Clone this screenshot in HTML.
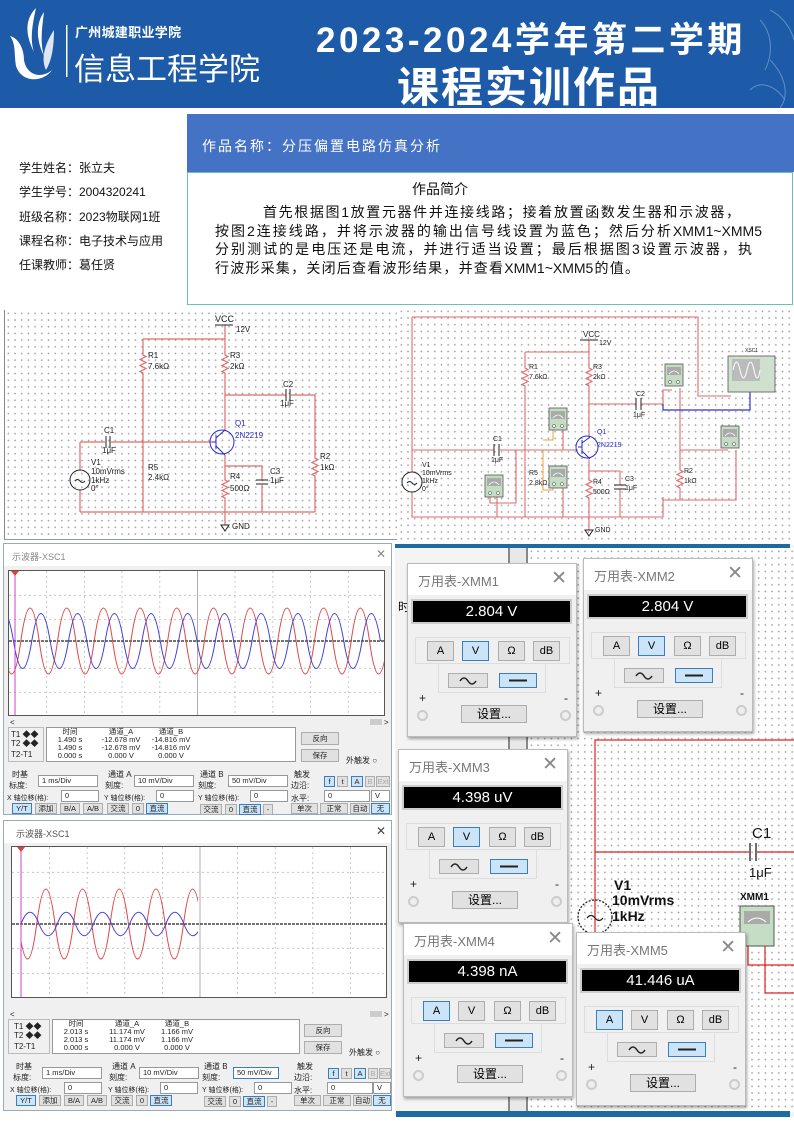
<!DOCTYPE html>
<html><head><meta charset="utf-8">
<style>
*{margin:0;padding:0;box-sizing:border-box}
body{width:794px;height:1123px;position:relative;overflow:hidden;background:#fff;font-family:"Liberation Sans","Noto Sans CJK SC",sans-serif}
.a{position:absolute;white-space:nowrap}
.dots{background-image:radial-gradient(#a0a0a0 0.7px,transparent 0.9px);background-size:6.7px 6.7px}
.jl{position:absolute;text-align:justify;text-align-last:justify;white-space:nowrap;font-size:14px;color:#111}
.sc{position:absolute;background:#f0f0f0;border:1px solid #9ab;font-size:8px;color:#222}
.sc .tb{position:absolute;left:0;top:0;right:0;height:22px;background:#fff}
.sc .a{font-size:8px}
.in{position:absolute;background:#fff;border:1px solid #999;height:12px;font-size:7.5px;padding-left:3px;line-height:10px}
.bt{position:absolute;background:#e1e1e1;border:1px solid #adadad;height:11px;font-size:7.5px;text-align:center;line-height:9px}
.sel{background:#cce4f7;border-color:#3b7ec0}
.mm{position:absolute;width:170px;height:174px;background:#f0f0f0;border:1px solid #bbb;box-shadow:1px 2px 3px rgba(0,0,0,.35)}
.mm .t{position:absolute;left:0;top:0;width:100%;height:31px;background:#fff}
.mm .tt{position:absolute;left:10px;top:7px;font-size:13px;color:#777}
.mm .x{position:absolute;right:9px;top:3px;font-size:19px;color:#888;font-weight:300}
.mm .d{position:absolute;left:3px;top:35px;width:161px;height:25px;background:#000;border:2px solid #ccc;color:#fff;font-size:15px;text-align:center;line-height:21px}
.mm .p1{position:absolute;left:7px;top:73px;width:155px;height:27px;border:1px solid #ddd}
.mm .p2{position:absolute;left:30px;top:100px;width:108px;height:29px;border:1px solid #ddd;border-top:none}
.mm .b{position:absolute;top:77px;width:27px;height:20px;background:#e1e1e1;border:1px solid #adadad;font-size:11px;text-align:center;line-height:18px}
.mm .w{position:absolute;top:109px;height:15px;background:#e1e1e1;border:1px solid #adadad}
.mm .s{background:#cce4f7;border-color:#3b7ec0}
.mm .set{position:absolute;left:53px;top:141px;width:66px;height:18px;background:#e1e1e1;border:1px solid #adadad;font-size:12px;text-align:center;line-height:16px}
.mm .c{position:absolute;top:146px;width:11px;height:11px;border-radius:50%;border:2px solid #ccc;background:#eee}
.mm .pm{position:absolute;top:127px;font-size:12px;color:#222}
</style></head><body>

<div class="a" style="left:0;top:0;width:794px;height:108px;background:#1d5ba8"></div>
<svg class="a" style="left:0;top:0" width="794" height="108">
 <g fill="#fff">
  <path d="M36,8 C22,22 28,40 34,52 C30,40 32,26 36,8Z"/>
  <path d="M44,12 C34,26 38,44 44,56 C40,42 42,28 44,12Z"/>
  <path d="M10,36 C18,38 24,48 24,60 C26,74 40,80 52,70 C44,82 22,84 16,66 C14,54 16,44 10,36Z"/>
  <path d="M54,30 C46,42 40,58 46,70 C52,60 54,46 54,30Z" opacity=".85"/>
 </g>
 <rect x="66" y="25" width="1.5" height="52" fill="#fff"/>
 <g fill="none" stroke="#8fb0d8" stroke-width="1" opacity=".6">
  <path d="M760,20 C770,30 775,50 765,70 M770,60 C785,75 790,95 780,108 M750,90 C760,80 775,85 785,100 M770,10 C780,15 790,25 794,40"/>
 </g>
</svg>
<div class="a" style="left:75px;top:22px;font-size:13px;font-weight:bold;color:#fff;letter-spacing:0.3px">广州城建职业学院</div>
<div class="a" style="left:74px;top:44px;font-size:31px;color:#fff;letter-spacing:0px">信息工程学院</div>
<div class="a" style="left:316px;top:12px;font-size:35px;font-weight:bold;color:#fff;letter-spacing:3.5px">2023-2024学年第二学期</div>
<div class="a" style="left:397px;top:54px;font-size:42px;font-weight:bold;color:#fff;letter-spacing:2px">课程实训作品</div>

<div class="a" style="left:19px;top:156px;font-size:12px;color:#111;line-height:24.3px">学生姓名：张立夫<br>学生学号：2004320241<br>班级名称：2023物联网1班<br>课程名称：电子技术与应用<br>任课教师：葛任贤</div>
<div class="a" style="left:187px;top:114px;width:607px;height:58px;background:#4472c4"></div>
<div class="jl" style="left:202px;top:136px;width:238px;color:#fff;font-size:14px">作品名称：分压偏置电路仿真分析</div>
<div class="a" style="left:187px;top:172px;width:606px;height:133px;border:1.5px solid #6cc2b0;border-top:1px solid #6cc2b0"></div>
<div class="a" style="left:412px;top:179px;font-size:14px;color:#111">作品简介</div>
<div class="jl" style="left:263px;top:202px;width:477px">首先根据图1放置元器件并连接线路；接着放置函数发生器和示波器，</div>
<div class="jl" style="left:215px;top:221px;width:547px">按图2连接线路，并将示波器的输出信号线设置为蓝色；然后分析XMM1~XMM5</div>
<div class="jl" style="left:215px;top:239px;width:537px">分别测试的是电压还是电流，并进行适当设置；最后根据图3设置示波器，执</div>
<div class="jl" style="left:215px;top:258px;width:424px">行波形采集，关闭后查看波形结果，并查看XMM1~XMM5的值。</div>

<div class="a dots" style="left:4px;top:310px;width:393px;height:230px;border-left:1px solid #888;border-bottom:1px solid #999"></div>
<div class="a dots" style="left:398px;top:308px;width:396px;height:236px"></div>
<div class="a" style="left:395px;top:545px;width:399px;height:572px;background:#f4f4f4"></div>
<div class="a dots" style="left:528px;top:548px;width:266px;height:564px;background-color:#fff"></div>
<div class="a" style="left:508px;top:548px;width:20px;height:567px;background:#e8e8e8;border-left:2px solid #888;border-right:2px solid #888"></div>
<div class="a" style="left:395px;top:544px;width:395px;height:4px;background:#1f6aa0"></div>
<div class="a" style="left:396px;top:1111px;width:394px;height:6px;background:#1f6aa0"></div>
<div class="a" style="left:398px;top:598px;font-size:12px">时</div>

<svg class="a" style="left:0;top:0" width="794" height="1123" viewBox="0 0 794 1123">
<defs>
 <g id="met"><rect x="0" y="0" width="18" height="22" fill="#c5dcc5" stroke="#555" stroke-width=".8"/><rect x="2" y="3" width="14" height="8" fill="#aaa"/><path d="M4,10 Q9,4 14,10" stroke="#fff" fill="none" stroke-width=".8"/><circle cx="5" cy="18" r="1.5" fill="#fff" stroke="#333" stroke-width=".5"/><circle cx="13" cy="18" r="1.5" fill="#fff" stroke="#333" stroke-width=".5"/></g>
</defs>
<g stroke="#e26a6a" stroke-width="1.2" fill="none">
 <path d="M225,325 V339 M143,339 H225"/>
 <path d="M143,339 V355 l3,1.5 l-6,3 l6,3 l-6,3 l6,3 l-6,3 l3,1.5 V512"/>
 <path d="M225,339 V355 l3,1.5 l-6,3 l6,3 l-6,3 l6,3 l-6,3 l3,1.5 V430"/>
 <path d="M225,395 H286 M291,395 H315 V458 l3,1.5 l-6,3 l6,3 l-6,3 l6,3 l-6,3 l3,1.5 V512"/>
 <path d="M80,442 H105 M111,442 H212"/>
 <path d="M80,442 V470 M80,490 V512"/>
 <path d="M225,455 V466 H262 V480 M262,485 V512"/>
 <path d="M225,466 V480 l3,1.5 l-6,3 l6,3 l-6,3 l6,3 l-6,3 l3,1.5 V525"/>
 <path d="M80,512 H315"/>
</g>
<g stroke="#222" stroke-width="1" fill="none">
 <path d="M215,325 H233"/>
 <path d="M106,436 V448 M110,436 V448 M286,389 V401 M290,389 V401 M256,480 H268 M256,484 H268"/>
 <circle cx="80" cy="480" r="10"/><path d="M75,481 q2.5,-3 5,0 t5,0"/>
 <path d="M221,525 H229 L225,531Z"/>
</g>
<g stroke="#2a2ad0" stroke-width="1" fill="none"><circle cx="222" cy="442" r="12"/><path d="M216,435 V449 M216,442 H212 M216,438 L225,430 M216,446 L225,455"/></g>
<g font-size="8" fill="#222" font-family="Liberation Sans">
 <text x="215" y="322" font-size="9">VCC</text><text x="236" y="332">12V</text>
 <text x="148" y="358">R1</text><text x="148" y="369">7.6kΩ</text>
 <text x="230" y="358">R3</text><text x="230" y="369">2kΩ</text>
 <text x="283" y="387">C2</text><text x="280" y="406">1μF</text>
 <text x="320" y="459">R2</text><text x="320" y="470">1kΩ</text>
 <text x="104" y="433">C1</text><text x="102" y="453">1μF</text>
 <text x="91" y="465">V1</text><text x="91" y="474">10mVrms</text><text x="91" y="483">1kHz</text><text x="91" y="491">0°</text>
 <text x="148" y="470">R5</text><text x="148" y="480">2.4kΩ</text>
 <text x="230" y="479">R4</text><text x="230" y="491">500Ω</text>
 <text x="270" y="474">C3</text><text x="270" y="483">1μF</text>
 <text x="232" y="529">GND</text>
 <text x="235" y="426" fill="#2a2ad0">Q1</text><text x="235" y="438" fill="#2a2ad0">2N2219</text>
</g>
<g stroke="#e26a6a" stroke-width="1.1" fill="none">
 <path d="M412,317 H698 V396 H731"/>
 <path d="M412,317 V472 M412,492 V517 H663 V500 H680 M663,500 V497"/>
 <path d="M589,340 V352 M525,352 H589"/>
 <path d="M525,352 V368 l3,1.5 l-6,3 l6,3 l-6,3 l6,3 l-6,3 l3,1.5 V517"/>
 <path d="M589,352 V368 l3,1.5 l-6,3 l6,3 l-6,3 l6,3 l-6,3 l3,1.5 V437"/>
 <path d="M589,404 H636 M641,404 H663 V390 H672 M680,388 V450 V470 l3,1.5 l-6,3 l6,3 l-6,3 l6,3 l-6,3 l3,1.5 V500"/>
 <path d="M412,450 H494 M500,450 H578 M563,450 V428"/>
 <path d="M680,450 H728 M736,450 V500 H663"/>
 <path d="M589,460 V471 H620 V485 M620,489 V517"/>
 <path d="M589,471 V480 l3,1.5 l-6,3 l6,3 l-6,3 l6,3 l-6,3 l3,1.5 V530"/>
 <path d="M490,497 V503 H516 V450 M497,497 V517"/>
 <path d="M563,487 V517"/>
</g>
<path d="M543,450 V490 H553 V486 M553,428 V440 H543" stroke="#f0a040" stroke-width="1" fill="none"/>
<path d="M663,404 V410 H750 V390" stroke="#3535c8" stroke-width="1.2" fill="none"/>
<g stroke="#222" stroke-width="1" fill="none">
 <path d="M580,340 H598 M494,444 V456 M499,444 V456 M636,398 V410 M641,398 V410 M614,485 H626 M614,489 H626"/>
 <circle cx="412" cy="482" r="10"/><path d="M407,483 q2.5,-3 5,0 t5,0"/>
 <path d="M585,530 H593 L589,536Z"/>
</g>
<g stroke="#2a2ad0" stroke-width="1" fill="none"><circle cx="587" cy="447" r="11"/><path d="M582,440 V454 M582,447 H578 M582,443 L590,437 M582,451 L590,459"/></g>
<use href="#met" x="665" y="364"/><use href="#met" x="721" y="426"/><use href="#met" x="549" y="408"/><use href="#met" x="549" y="466"/><use href="#met" x="485" y="475"/>
<rect x="728" y="356" width="47" height="36" fill="#cfe0cf" stroke="#555" stroke-width=".8"/><rect x="732" y="359" width="28" height="22" fill="#bbb"/><path d="M733,370 q3.5,-16 7,0 t7,0 t7,0 t6,0" stroke="#fff" fill="none"/>
<g font-size="7" fill="#222" font-family="Liberation Sans">
 <text x="583" y="337" font-size="8">VCC</text><text x="599" y="345">12V</text>
 <text x="529" y="369">R1</text><text x="529" y="379">7.6kΩ</text>
 <text x="593" y="369">R3</text><text x="593" y="379">2kΩ</text>
 <text x="636" y="396">C2</text><text x="633" y="417">1μF</text>
 <text x="493" y="441">C1</text><text x="491" y="462">1μF</text>
 <text x="422" y="467">V1</text><text x="422" y="475">10mVrms</text><text x="422" y="483">1kHz</text><text x="422" y="491">0°</text>
 <text x="529" y="475">R5</text><text x="529" y="485">2.8kΩ</text>
 <text x="593" y="484">R4</text><text x="593" y="494">500Ω</text>
 <text x="625" y="481">C3</text><text x="625" y="490">1μF</text>
 <text x="684" y="473">R2</text><text x="684" y="483">1kΩ</text>
 <text x="595" y="532">GND</text>
 <text x="597" y="434" fill="#2a2ad0">Q1</text><text x="597" y="447" fill="#2a2ad0">2N2219</text>
 <text x="745" y="352" font-size="5">XSC1</text>
</g>
<g stroke="#e02020" stroke-width="1.2" fill="none">
 <path d="M595,993 V740 H794"/>
 <path d="M595,852 H749 M757,852 H794"/>
 <path d="M748,945 V965 H794 M765,945 V993 H794"/>
</g>
<g stroke="#222" stroke-width="1.3" fill="none"><path d="M750,843 V861 M756,843 V861"/><circle cx="595" cy="917" r="17" stroke-dasharray="2,1.5"/><path d="M587,918 q4,-5 8,0 t8,0"/></g>
<g font-family="Liberation Sans" fill="#111" font-size="14" font-weight="bold">
 <text x="752" y="838" font-size="15" font-weight="normal">C1</text><text x="749" y="877" font-size="13" font-weight="normal">1μF</text>
 <text x="614" y="890">V1</text><text x="612" y="905">10mVrms</text><text x="612" y="921">1kHz</text>
 <text x="740" y="900" font-size="10">XMM1</text>
</g>
<rect x="740" y="906" width="34" height="40" fill="#c5dcc5" stroke="#555"/><rect x="744" y="911" width="26" height="13" fill="#aaa"/><path d="M748,922 Q757,914 766,922" stroke="#fff" fill="none"/>
</svg>

<div class="sc" style="left:3px;top:543px;width:389px;height:272px">
 <div class="tb"></div>
 <div class="a" style="left:8px;top:6px;font-size:9px;color:#888">示波器-XSC1</div>
 <div class="a" style="left:372px;top:3px;font-size:12px;color:#888">✕</div>
 <svg class="a" style="left:4px;top:26px;background:#fff;border:1px solid #555" width="377" height="146">
  <g stroke="#bbb" stroke-dasharray="2,3" stroke-width=".8"><path d="M37.7,0V146M75.4,0V146M113,0V146M150.8,0V146M226,0V146M263.9,0V146M301.6,0V146M339.3,0V146M0,24.3H377M0,48.6H377M0,97.3H377M0,121.6H377"/></g>
  <path d="M188.5,0V146" stroke="#999" stroke-width=".8"/>
  <path d="M0,70H377" stroke="#222" stroke-width="1.2" stroke-dasharray="3,1"/>
  <path d="M-6.5,70 q9.17,66 18.35,0 t18.35,0 t18.35,0 t18.35,0 t18.35,0 t18.35,0 t18.35,0 t18.35,0 t18.35,0 t18.35,0 t18.35,0 t18.35,0 t18.35,0 t18.35,0 t18.35,0 t18.35,0 t18.35,0 t18.35,0 t18.35,0 t18.35,0 t18.35,0" stroke="#e04545" fill="none" stroke-width="1"/>
  <path d="M-13.9,70 q9.17,-55 18.35,0 t18.35,0 t18.35,0 t18.35,0 t18.35,0 t18.35,0 t18.35,0 t18.35,0 t18.35,0 t18.35,0 t18.35,0 t18.35,0 t18.35,0 t18.35,0 t18.35,0 t18.35,0 t18.35,0 t18.35,0 t18.35,0 t18.35,0 t18.35,0" stroke="#4040d8" fill="none" stroke-width="1"/>
  <path d="M6,0V146" stroke="#d040d0" stroke-width="1"/>
  <path d="M2,0 H10 L6,5Z" fill="#e04040"/>
 </svg>
 <div class="a" style="left:6px;top:174px;font-size:8px">&lt;</div><div class="a" style="left:380px;top:174px;font-size:8px">&gt;</div>
 <div class="a" style="left:366px;top:175px;width:12px;height:6px;background:#ccc"></div>
 <div class="a" style="left:4px;top:183px;width:36px;height:35px;border:1px solid #bbb"></div>
 <div class="a" style="left:7px;top:185px">T1 ◆◆</div><div class="a" style="left:7px;top:194px">T2 ◆◆</div><div class="a" style="left:7px;top:206px">T2-T1</div>
 <div class="a" style="left:42px;top:183px;width:250px;height:35px;background:#fff;border:1px solid #999"></div>
 <div class="a" style="left:46px;top:184px;line-height:8px;text-align:center;width:40px;font-size:7.5px">时间<br>1.490 s<br>1.490 s<br>0.000 s</div>
 <div class="a" style="left:92px;top:184px;line-height:8px;text-align:center;width:50px;font-size:7.5px">通道_A<br>-12.678 mV<br>-12.678 mV<br>0.000 V</div>
 <div class="a" style="left:142px;top:184px;line-height:8px;text-align:center;width:50px;font-size:7.5px">通道_B<br>-14.816 mV<br>-14.816 mV<br>0.000 V</div>
 <div class="bt" style="left:297px;top:188px;width:38px;height:13px;line-height:11px">反向</div>
 <div class="bt" style="left:297px;top:205px;width:38px;height:13px;line-height:11px">保存</div>
 <div class="a" style="left:342px;top:211px">外触发 ○</div>
 <div class="a" style="left:8px;top:225px">时基</div><div class="a" style="left:5px;top:236px">标度:</div><div class="in" style="left:34px;top:231px;width:60px">1 ms/Div</div>
 <div class="a" style="left:3px;top:249px;font-size:7px">X 轴位移(格):</div><div class="in" style="left:57px;top:246px;width:38px">0</div>
 <div class="bt sel" style="left:8px;top:259px;width:20px">Y/T</div><div class="bt" style="left:31px;top:259px;width:22px">添加</div><div class="bt" style="left:56px;top:259px;width:20px">B/A</div><div class="bt" style="left:79px;top:259px;width:20px">A/B</div>
 <div class="a" style="left:104px;top:225px">通道 A</div><div class="a" style="left:101px;top:236px">刻度:</div><div class="in" style="left:130px;top:231px;width:60px">10 mV/Div</div>
 <div class="a" style="left:100px;top:249px;font-size:7px">Y 轴位移(格):</div><div class="in" style="left:152px;top:246px;width:38px">0</div>
 <div class="bt" style="left:103px;top:259px;width:22px">交流</div><div class="bt" style="left:128px;top:259px;width:12px">0</div><div class="bt sel" style="left:142px;top:259px;width:22px">直流</div>
 <div class="a" style="left:196px;top:225px">通道 B</div><div class="a" style="left:194px;top:236px">刻度:</div><div class="in" style="left:224px;top:231px;width:60px">50 mV/Div</div>
 <div class="a" style="left:194px;top:249px;font-size:7px">Y 轴位移(格):</div><div class="in" style="left:246px;top:246px;width:38px">0</div>
 <div class="bt" style="left:196px;top:260px;width:22px">交流</div><div class="bt" style="left:221px;top:260px;width:12px">0</div><div class="bt sel" style="left:235px;top:260px;width:22px">直流</div><div class="bt" style="left:259px;top:260px;width:10px">-</div>
 <div class="a" style="left:290px;top:225px">触发</div><div class="a" style="left:287px;top:236px">边沿:</div>
 <div class="bt sel" style="left:320px;top:232px;width:11px">f</div><div class="bt" style="left:333px;top:232px;width:11px">t</div><div class="bt sel" style="left:347px;top:232px;width:12px">A</div><div class="bt" style="left:361px;top:232px;width:10px;color:#aaa">B</div><div class="bt" style="left:372px;top:232px;width:14px;color:#aaa">Ext</div>
 <div class="a" style="left:287px;top:249px">水平:</div><div class="in" style="left:320px;top:246px;width:46px">0</div><div class="in" style="left:367px;top:246px;width:19px">V</div>
 <div class="bt" style="left:287px;top:259px;width:27px">单次</div><div class="bt" style="left:316px;top:259px;width:28px">正常</div><div class="bt" style="left:346px;top:259px;width:20px">自动</div><div class="bt sel" style="left:367px;top:259px;width:19px">无</div>
</div>

<div class="sc" style="left:3px;top:820px;width:389px;height:291px">
 <div class="tb"></div>
 <div class="a" style="left:12px;top:6px;font-size:9px;color:#555">示波器-XSC1</div>
 <div class="a" style="left:372px;top:3px;font-size:12px;color:#444">✕</div>
 <svg class="a" style="left:7px;top:25px;background:#fff;border:1px solid #555" width="376" height="152">
  <g stroke="#bbb" stroke-dasharray="2,3" stroke-width=".8"><path d="M37.6,0V152M75.2,0V152M112.8,0V152M150.4,0V152M225.6,0V152M263.2,0V152M300.8,0V152M338.4,0V152M0,25.3H376M0,50.6H376M0,101.3H376M0,126.6H376"/></g>
  <path d="M188,0V152" stroke="#999" stroke-width=".8"/>
  <path d="M0,77H376" stroke="#222" stroke-width="1.2" stroke-dasharray="3,1"/>
  <clipPath id="cp"><rect x="9" y="0" width="177" height="152"/></clipPath>
  <g clip-path="url(#cp)">
  <path d="M-12,77 q9.17,-70 18.35,0 t18.35,0 t18.35,0 t18.35,0 t18.35,0 t18.35,0 t18.35,0 t18.35,0 t18.35,0 t18.35,0 t18.35,0 t18.35,0" stroke="#e04545" fill="none" stroke-width="1"/>
  <path d="M9,77 q9.05,-23.4 18.1,0 t18.1,0 t18.1,0 t18.1,0 t18.1,0 t18.1,0 t18.1,0 t18.1,0 t18.1,0 t18.1,0" stroke="#4040d8" fill="none" stroke-width="1"/>
  </g>
  <path d="M9,0V152" stroke="#d040d0" stroke-width="1"/>
  <path d="M5,0 H13 L9,5Z" fill="#e04040"/>
 </svg>
 <div style="position:absolute;left:0;top:15px;width:389px;height:272px">
 <div class="a" style="left:6px;top:174px;font-size:8px">&lt;</div><div class="a" style="left:380px;top:174px;font-size:8px">&gt;</div>
 <div class="a" style="left:366px;top:175px;width:12px;height:6px;background:#ccc"></div>
 <div class="a" style="left:4px;top:183px;width:42px;height:35px;border:1px solid #bbb"></div>
 <div class="a" style="left:10px;top:185px">T1 ◆◆</div><div class="a" style="left:10px;top:194px">T2 ◆◆</div><div class="a" style="left:10px;top:206px">T2-T1</div>
 <div class="a" style="left:48px;top:183px;width:248px;height:35px;background:#fff;border:1px solid #999"></div>
 <div class="a" style="left:52px;top:184px;line-height:8px;text-align:center;width:40px;font-size:7.5px">时间<br>2.013 s<br>2.013 s<br>0.000 s</div>
 <div class="a" style="left:98px;top:184px;line-height:8px;text-align:center;width:50px;font-size:7.5px">通道_A<br>11.174 mV<br>11.174 mV<br>0.000 V</div>
 <div class="a" style="left:148px;top:184px;line-height:8px;text-align:center;width:50px;font-size:7.5px">通道_B<br>1.166 mV<br>1.166 mV<br>0.000 V</div>
 <div class="bt" style="left:300px;top:188px;width:38px;height:13px;line-height:11px">反向</div>
 <div class="bt" style="left:300px;top:205px;width:38px;height:13px;line-height:11px">保存</div>
 <div class="a" style="left:345px;top:211px">外触发 ○</div>
 <div class="a" style="left:12px;top:225px">时基</div><div class="a" style="left:9px;top:236px">标度:</div><div class="in" style="left:38px;top:231px;width:60px">1 ms/Div</div>
 <div class="a" style="left:6px;top:249px;font-size:7px">X 轴位移(格):</div><div class="in" style="left:60px;top:246px;width:38px">0</div>
 <div class="bt sel" style="left:12px;top:259px;width:20px">Y/T</div><div class="bt" style="left:35px;top:259px;width:22px">添加</div><div class="bt" style="left:60px;top:259px;width:20px">B/A</div><div class="bt" style="left:83px;top:259px;width:20px">A/B</div>
 <div class="a" style="left:108px;top:225px">通道 A</div><div class="a" style="left:105px;top:236px">刻度:</div><div class="in" style="left:135px;top:231px;width:60px">10 mV/Div</div>
 <div class="a" style="left:104px;top:249px;font-size:7px">Y 轴位移(格):</div><div class="in" style="left:156px;top:246px;width:38px">0</div>
 <div class="bt" style="left:107px;top:259px;width:22px">交流</div><div class="bt" style="left:132px;top:259px;width:12px">0</div><div class="bt sel" style="left:146px;top:259px;width:22px">直流</div>
 <div class="a" style="left:200px;top:225px">通道 B</div><div class="a" style="left:198px;top:236px">刻度:</div><div class="in sel" style="left:229px;top:231px;width:46px;background:#fff">50 mV/Div</div>
 <div class="a" style="left:198px;top:249px;font-size:7px">Y 轴位移(格):</div><div class="in" style="left:250px;top:246px;width:38px">0</div>
 <div class="bt" style="left:200px;top:260px;width:22px">交流</div><div class="bt" style="left:225px;top:260px;width:12px">0</div><div class="bt sel" style="left:239px;top:260px;width:22px">直流</div><div class="bt" style="left:263px;top:260px;width:10px">-</div>
 <div class="a" style="left:293px;top:225px">触发</div><div class="a" style="left:290px;top:236px">边沿:</div>
 <div class="bt sel" style="left:324px;top:232px;width:11px">f</div><div class="bt" style="left:337px;top:232px;width:11px">t</div><div class="bt sel" style="left:350px;top:232px;width:12px">A</div><div class="bt" style="left:364px;top:232px;width:10px;color:#aaa">B</div><div class="bt" style="left:375px;top:232px;width:12px;color:#aaa">Ext</div>
 <div class="a" style="left:290px;top:249px">水平:</div><div class="in" style="left:323px;top:246px;width:46px">0</div><div class="in" style="left:369px;top:246px;width:18px">V</div>
 <div class="bt" style="left:290px;top:259px;width:27px">单次</div><div class="bt" style="left:319px;top:259px;width:28px">正常</div><div class="bt" style="left:349px;top:259px;width:19px">自动</div><div class="bt sel" style="left:369px;top:259px;width:18px">无</div>
 </div>
</div>

<div class="mm" style="left:407px;top:563px"><div class="t"></div><div class="tt">万用表-XMM1</div><div class="x">✕</div><div class="d">2.804 V</div><div class="p1"></div><div class="p2"></div>
 <div class="b" style="left:19px">A</div><div class="b s" style="left:54px">V</div><div class="b" style="left:90px">Ω</div><div class="b" style="left:125px">dB</div>
 <div class="w" style="left:40px;width:40px"><svg width="38" height="13"><path d="M11,7 q4,-6 8,0 t8,0" stroke="#222" stroke-width="1.5" fill="none"/></svg></div><div class="w s" style="left:91px;width:38px"><svg width="36" height="13"><path d="M9,6.5 H27" stroke="#222" stroke-width="2"/></svg></div>
 <div class="pm" style="left:11px">+</div><div class="c" style="left:9px"></div><div class="set">设置...</div><div class="pm" style="left:156px">-</div><div class="c" style="left:152px"></div></div>

<div class="mm" style="left:583px;top:558px"><div class="t"></div><div class="tt">万用表-XMM2</div><div class="x">✕</div><div class="d">2.804 V</div><div class="p1"></div><div class="p2"></div>
 <div class="b" style="left:19px">A</div><div class="b s" style="left:54px">V</div><div class="b" style="left:90px">Ω</div><div class="b" style="left:125px">dB</div>
 <div class="w" style="left:40px;width:40px"><svg width="38" height="13"><path d="M11,7 q4,-6 8,0 t8,0" stroke="#222" stroke-width="1.5" fill="none"/></svg></div><div class="w s" style="left:91px;width:38px"><svg width="36" height="13"><path d="M9,6.5 H27" stroke="#222" stroke-width="2"/></svg></div>
 <div class="pm" style="left:11px">+</div><div class="c" style="left:9px"></div><div class="set">设置...</div><div class="pm" style="left:156px">-</div><div class="c" style="left:152px"></div></div>

<div class="mm" style="left:398px;top:749px"><div class="t"></div><div class="tt">万用表-XMM3</div><div class="x">✕</div><div class="d">4.398 uV</div><div class="p1"></div><div class="p2"></div>
 <div class="b" style="left:19px">A</div><div class="b s" style="left:54px">V</div><div class="b" style="left:90px">Ω</div><div class="b" style="left:125px">dB</div>
 <div class="w" style="left:40px;width:40px"><svg width="38" height="13"><path d="M11,7 q4,-6 8,0 t8,0" stroke="#222" stroke-width="1.5" fill="none"/></svg></div><div class="w s" style="left:91px;width:38px"><svg width="36" height="13"><path d="M9,6.5 H27" stroke="#222" stroke-width="2"/></svg></div>
 <div class="pm" style="left:11px">+</div><div class="c" style="left:9px"></div><div class="set">设置...</div><div class="pm" style="left:156px">-</div><div class="c" style="left:152px"></div></div>

<div class="mm" style="left:403px;top:923px"><div class="t"></div><div class="tt">万用表-XMM4</div><div class="x">✕</div><div class="d">4.398 nA</div><div class="p1"></div><div class="p2"></div>
 <div class="b s" style="left:19px">A</div><div class="b" style="left:54px">V</div><div class="b" style="left:90px">Ω</div><div class="b" style="left:125px">dB</div>
 <div class="w" style="left:40px;width:40px"><svg width="38" height="13"><path d="M11,7 q4,-6 8,0 t8,0" stroke="#222" stroke-width="1.5" fill="none"/></svg></div><div class="w s" style="left:91px;width:38px"><svg width="36" height="13"><path d="M9,6.5 H27" stroke="#222" stroke-width="2"/></svg></div>
 <div class="pm" style="left:11px">+</div><div class="c" style="left:9px"></div><div class="set">设置...</div><div class="pm" style="left:156px">-</div><div class="c" style="left:152px"></div></div>

<div class="mm" style="left:576px;top:932px"><div class="t"></div><div class="tt">万用表-XMM5</div><div class="x">✕</div><div class="d">41.446 uA</div><div class="p1"></div><div class="p2"></div>
 <div class="b s" style="left:19px">A</div><div class="b" style="left:54px">V</div><div class="b" style="left:90px">Ω</div><div class="b" style="left:125px">dB</div>
 <div class="w" style="left:40px;width:40px"><svg width="38" height="13"><path d="M11,7 q4,-6 8,0 t8,0" stroke="#222" stroke-width="1.5" fill="none"/></svg></div><div class="w s" style="left:91px;width:38px"><svg width="36" height="13"><path d="M9,6.5 H27" stroke="#222" stroke-width="2"/></svg></div>
 <div class="pm" style="left:11px">+</div><div class="c" style="left:9px"></div><div class="set">设置...</div><div class="pm" style="left:156px">-</div><div class="c" style="left:152px"></div></div>

</body></html>
